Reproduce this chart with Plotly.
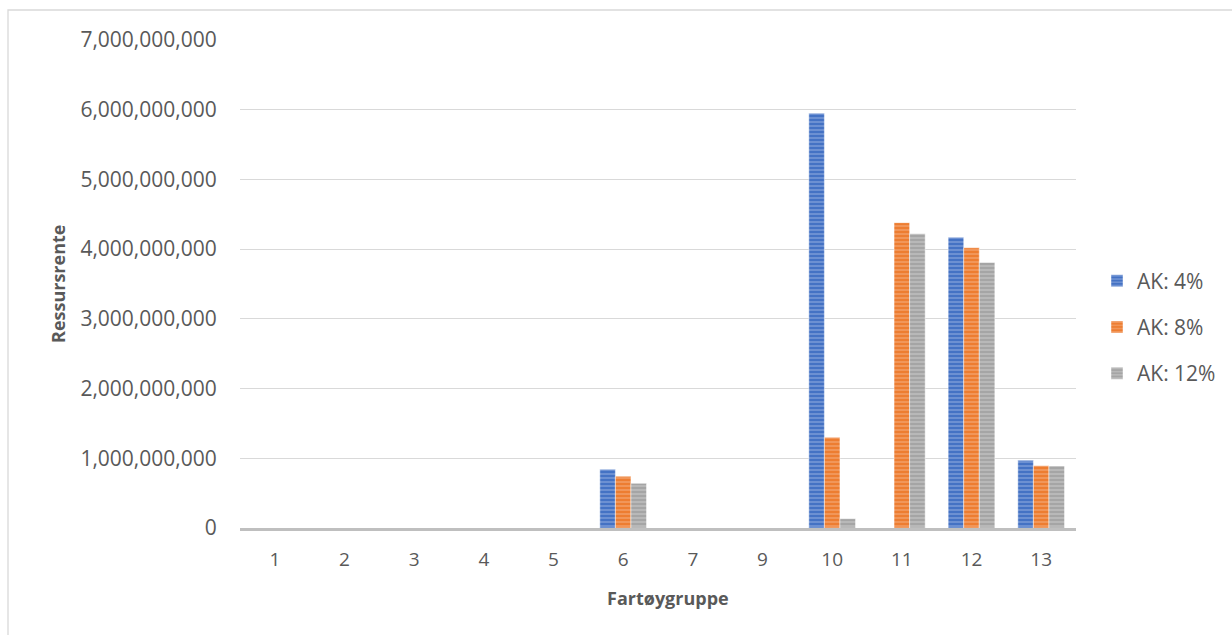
import plotly.graph_objects as go

# Vessel groups (group 8 has no entry)
groups = ["1", "2", "3", "4", "5", "6", "7", "9", "10", "11", "12", "13"]

# Resource rent per vessel group for three alternative-cost rates
ak_4 = [0, 0, 0, 0, 0, 842e6, 0, 0, 5950e6, 0, 4170e6, 971e6]
ak_8 = [0, 0, 0, 0, 0, 742e6, 0, 0, 1300e6, 4380e6, 4020e6, 894e6]
ak_12 = [0, 0, 0, 0, 0, 641e6, 0, 0, 134e6, 4220e6, 3810e6, 890e6]

series_names = ["AK: 4%", "AK: 8%", "AK: 12%"]
y_ticks = [0, 1e9, 2e9, 3e9, 4e9, 5e9, 6e9, 7e9]

W, H = 1232, 635
L, R, T, B = 240, 1076, 40, 528  # plot area in pixels

FONT = "Open Sans"
TEXT = "#595959"

styles = [
    ("#4472C4", "#9db5e3"),
    ("#ED7D31", "#f6b58a"),
    ("#A5A5A5", "#cfcfcf"),
]

fig = go.Figure()
for name, vals, (base, stripe) in zip(series_names, [ak_4, ak_8, ak_12], styles):
    fig.add_trace(go.Bar(
        x=groups,
        y=vals,
        name=name,
        legendgroup=name,
        marker=dict(
            color=base,
            line=dict(width=1, color="rgba(255,255,255,0.45)"),
            pattern=dict(shape="-", bgcolor=base, fgcolor=stripe,
                         size=4, solidity=0.45, fillmode="overlay"),
        ),
    ))

def px_x(p):
    return (p - L) / (R - L)

def px_y(p):
    return (B - p) / (B - T)

fig.update_layout(
    width=W, height=H,
    margin=dict(l=L, r=W - R, t=T, b=H - B, pad=0, autoexpand=False),
    paper_bgcolor="white",
    plot_bgcolor="white",
    barmode="group",
    bargap=0.33,
    bargroupgap=0,
    font=dict(family=FONT, size=20, color=TEXT),
    showlegend=True,
    legend=dict(
        xref="container", yref="container",
        x=1097 / W, xanchor="left", y=(H - 327) / H, yanchor="middle",
        font=dict(family=FONT, size=21, color=TEXT),
        traceorder="grouped", tracegroupgap=16,
        itemwidth=30,
        bgcolor="rgba(0,0,0,0)",
    ),
    xaxis=dict(
        type="category",
        tickfont=dict(family=FONT, size=19, color=TEXT),
        showline=True, linecolor="#bfbfbf", linewidth=3,
        showgrid=False, zeroline=False,
        ticks="outside", ticklen=12, tickcolor="rgba(0,0,0,0)",
        fixedrange=True,
    ),
    yaxis=dict(
        range=[0, 7e9],
        tickvals=y_ticks,
        tickformat=",d",
        tickfont=dict(family=FONT, size=21, color=TEXT),
        showgrid=True, gridcolor="#d9d9d9", gridwidth=1.3,
        zeroline=False, showline=False,
        ticks="outside", ticklen=18, tickcolor="rgba(0,0,0,0)",
        fixedrange=True,
    ),
    shapes=[
        dict(type="rect", xref="paper", yref="paper",
             x0=px_x(8), x1=px_x(W + 10), y0=px_y(H + 10), y1=px_y(10),
             line=dict(color="#d9d9d9", width=1.3), fillcolor="rgba(0,0,0,0)",
             layer="below"),
    ],
    annotations=[
        dict(text="<b>Fartøygruppe</b>", xref="paper", yref="paper",
             x=px_x(668), y=px_y(598), xanchor="center", yanchor="middle",
             showarrow=False, font=dict(family=FONT, size=18, color=TEXT)),
        dict(text="<b>Ressursrente</b>", xref="paper", yref="paper",
             x=px_x(58), y=px_y(284), xanchor="center", yanchor="middle",
             textangle=-90, showarrow=False,
             font=dict(family=FONT, size=18, color=TEXT)),
    ],
)

fig.write_html("out.html")
